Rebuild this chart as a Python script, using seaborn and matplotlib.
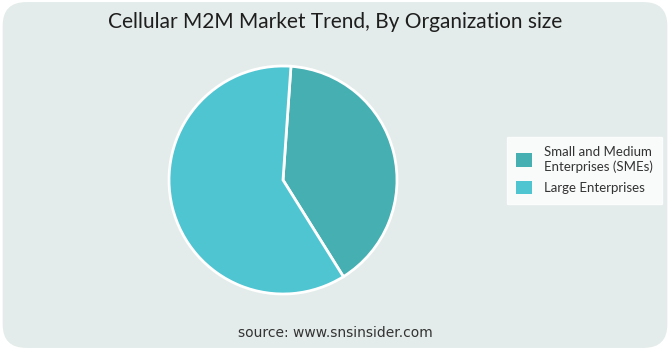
import matplotlib
matplotlib.use("Agg")
import matplotlib.pyplot as plt
import seaborn as sns
from matplotlib.patches import FancyBboxPatch, Patch

sns.set_theme(style="white")
plt.rcParams['font.family'] = ['Lato', 'DejaVu Sans']

title = "Cellular M2M Market Trend, By Organization size"
categories = ["Small and Medium\nEnterprises (SMEs)", "Large Enterprises"]
values = [40, 60]
colors = ["#45afb2", "#4fc5d2"]
source = "source: www.snsinsider.com"

fig = plt.figure(figsize=(6.7, 3.5), dpi=100)
fig.patch.set_facecolor("white")
bg = FancyBboxPatch((0.004, 0.006), 0.992, 0.988, boxstyle="round,pad=0,rounding_size=0.035",
                    transform=fig.transFigure, facecolor="#e3ecea", edgecolor="none",
                    mutation_aspect=6.7/3.5, zorder=-10)
fig.patches.append(bg)

# pie axes: center (283,180), radius 113 px
cx, cy, r = 283, 180, 114
ax = fig.add_axes([(cx - r) / 670, 1 - (cy + r) / 350, 2 * r / 670, 2 * r / 350])
ax.set_facecolor("none")
ax.set_zorder(5)
wedges, _ = ax.pie(values, colors=colors, startangle=86, counterclock=False,
                   wedgeprops=dict(edgecolor="white", linewidth=2))
ax.set_aspect("equal")
ax.set_xlim(-1.0, 1.0)
ax.set_ylim(-1.0, 1.0)

fig.text(0.5, 1 - 22 / 350, title, ha="center", va="center", fontsize=15, color="#1e1e1e")
fig.text(0.5, 1 - 333 / 350, source, ha="center", va="center", fontsize=10,
         color="#333333", family=['DejaVu Sans'])

handles = [Patch(facecolor=c, edgecolor="none") for c in colors]
leg = fig.legend(handles, categories, loc="upper left",
                 bbox_to_anchor=(507 / 670, 1 - 137 / 350), frameon=True,
                 fontsize=9.5, handlelength=1.2, handleheight=1.2, labelspacing=0.6,
                 borderpad=0.7, handletextpad=0.9, fancybox=False, borderaxespad=0)
leg.get_frame().set_facecolor("white")
leg.get_frame().set_edgecolor("white")
leg.set_zorder(6)
for t in leg.get_texts():
    t.set_color("#333333")

fig.savefig("out.png", dpi=100, facecolor="white")
